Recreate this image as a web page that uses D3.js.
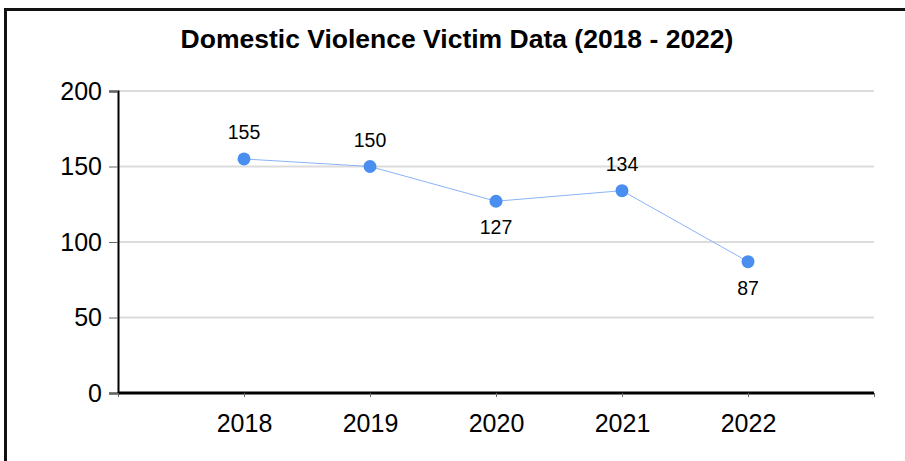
<!DOCTYPE html>
<html>
<head>
<meta charset="utf-8">
<script src="https://cdn.jsdelivr.net/npm/d3@7"></script>
<style>
  html, body { margin: 0; padding: 0; background: #fff; }
  svg { display: block; }
  text { font-family: "Liberation Sans", Arial, sans-serif; fill: #000; }
</style>
</head>
<body>
<svg id="chart" width="905" height="461"></svg>
<script>
const titleText = "Domestic Violence Victim Data (2018 - 2022)";
const years = [2018, 2019, 2020, 2021, 2022];
const victims = [155, 150, 127, 134, 87];
const labelAbove = [true, true, false, true, false];
const yTicks = [0, 50, 100, 150, 200];
const xTickYears = [2017, 2018, 2019, 2020, 2021, 2022, 2023];

const svg = d3.select("#chart");

// outer frame
svg.append("rect")
  .attr("x", 5.5).attr("y", 9.5)
  .attr("width", 960).attr("height", 520)
  .attr("fill", "none").attr("stroke", "#111").attr("stroke-width", 3);

const x = d3.scaleLinear().domain([2017, 2023]).range([118, 874]);
const y = d3.scaleLinear().domain([0, 200]).range([393, 91]);

// title
svg.append("text")
  .attr("x", 457).attr("y", 48)
  .attr("text-anchor", "middle")
  .attr("font-size", 26.5).attr("font-weight", "bold")
  .text(titleText);

// gridlines
svg.append("g").selectAll("line")
  .data(yTicks.filter(d => d > 0))
  .join("line")
  .attr("x1", 118).attr("x2", 874)
  .attr("y1", d => y(d)).attr("y2", d => y(d))
  .attr("stroke", "#dcdcdc").attr("stroke-width", 2);

// y axis
const yAxis = svg.append("g")
  .attr("transform", "translate(118,0)")
  .call(d3.axisLeft(y).tickValues(yTicks).tickSize(9).tickPadding(7));
yAxis.select(".domain").attr("stroke", "#000").attr("stroke-width", 2);
yAxis.selectAll(".tick line").attr("stroke", "#666").attr("stroke-width", 1);
yAxis.selectAll(".tick text")
  .attr("font-size", 25).attr("fill", "#000")
  .style("font-family", "'Liberation Sans', Arial, sans-serif");

// x axis
const xAxis = svg.append("g")
  .attr("transform", "translate(0,393)")
  .call(d3.axisBottom(x).tickValues(xTickYears).tickSize(4).tickPadding(17)
    .tickFormat(d => years.includes(d) ? String(d) : ""));
xAxis.select(".domain").attr("stroke", "#000").attr("stroke-width", 3)
  .attr("d", "M118,0H874");
xAxis.selectAll(".tick line").attr("stroke", "#666").attr("stroke-width", 1);
xAxis.selectAll(".tick text")
  .attr("font-size", 25).attr("fill", "#000")
  .style("font-family", "'Liberation Sans', Arial, sans-serif");

// line
const data = years.map((yr, i) => ({ yr, v: victims[i], above: labelAbove[i] }));
svg.append("path")
  .datum(data)
  .attr("fill", "none")
  .attr("stroke", "#8ab4f8")
  .attr("stroke-width", 1)
  .attr("d", d3.line().x(d => x(d.yr)).y(d => y(d.v)));

// points
svg.append("g").selectAll("circle")
  .data(data)
  .join("circle")
  .attr("cx", d => x(d.yr)).attr("cy", d => y(d.v))
  .attr("r", 6.5)
  .attr("fill", "#4a8ef0");

// value labels
svg.append("g").selectAll("text")
  .data(data)
  .join("text")
  .attr("x", d => x(d.yr))
  .attr("y", d => y(d.v) + (d.above ? -20 : 33))
  .attr("text-anchor", "middle")
  .attr("font-size", 19.5)
  .text(d => d.v);
</script>
</body>
</html>
